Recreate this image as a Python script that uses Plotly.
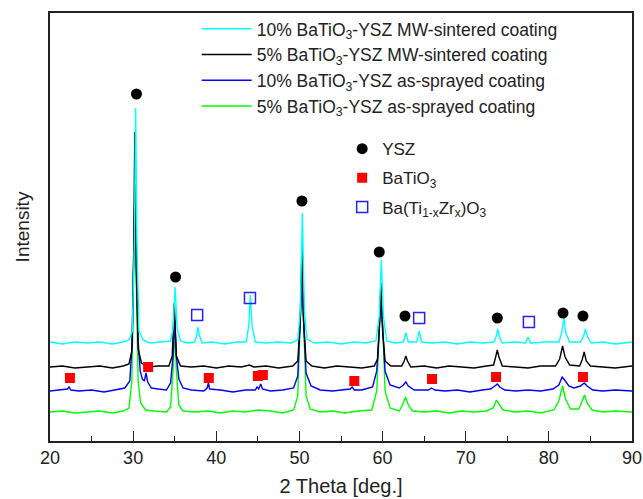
import plotly.graph_objects as go

# ---------------- data (intensity in arbitrary units) ----------------
names = [
    "10% BaTiO<sub>3</sub>-YSZ MW-sintered coating",
    "5% BaTiO<sub>3</sub>-YSZ MW-sintered coating",
    "10% BaTiO<sub>3</sub>-YSZ as-sprayed coating",
    "5% BaTiO<sub>3</sub>-YSZ as-sprayed coating",
]
colors = ["#00FFFF", "#000000", "#0000FF", "#00FF00"]

cyan_x = [20.0, 21.5, 23.0, 24.5, 26.0, 27.5, 28.8, 29.5, 29.9, 30.15, 30.3, 30.45, 30.7, 31.2, 32.0, 33.5,
          34.5, 34.8, 35.05, 35.3, 35.7, 36.5, 37.4, 37.65, 37.8, 37.95, 38.3, 39.5, 41.0, 42.5, 43.6, 43.9,
          44.1, 44.3, 44.7, 46.0, 47.5, 49.0, 49.8, 50.1, 50.35, 50.6, 50.9, 51.8, 53.5, 55.0, 56.5, 58.0,
          59.2, 59.6, 59.85, 60.1, 60.5, 61.5, 62.5, 62.8, 63.1, 64.1, 64.4, 64.7, 66.0, 67.5, 69.0, 70.5,
          72.0, 73.4, 73.65, 73.85, 74.05, 74.4, 76.0, 77.2, 77.5, 77.8, 79.5, 81.2, 81.55, 81.8, 82.05, 82.5,
          83.8, 84.15, 84.4, 84.65, 85.1, 86.5, 88.0, 90.0]
cyan_y = [99, 97, 99, 98, 99, 97, 99, 101, 110, 200, 333, 200, 110, 101, 98, 99,
          100, 112, 154, 112, 100, 98, 99, 106, 114, 106, 98, 99, 97, 99, 99, 115,
          146, 115, 99, 98, 99, 98, 101, 130, 228, 130, 102, 98, 99, 97, 99, 98,
          100, 125, 181, 125, 100, 98, 99, 108, 99, 99, 110, 99, 98, 99, 97, 99,
          98, 99, 104, 112, 104, 98, 99, 98, 104, 98, 99, 99, 108, 123, 108, 99,
          99, 104, 112, 104, 98, 99, 97, 99]

black_x = [20.0, 21.5, 23.0, 24.5, 26.0, 27.5, 28.8, 29.5, 29.85, 30.05, 30.2, 30.35, 30.6, 31.0, 31.8, 33.0,
           34.3, 34.7, 34.95, 35.2, 35.7, 37.0, 38.5, 40.0, 41.5, 43.0, 44.0, 44.5, 46.0, 47.5, 49.2, 49.8,
           50.1, 50.3, 50.5, 50.8, 51.5, 53.0, 54.5, 56.0, 57.5, 59.0, 59.4, 59.6, 59.8, 60.0, 60.3, 61.0,
           62.3, 62.6, 62.8, 63.0, 63.4, 65.0, 66.5, 68.0, 69.5, 71.0, 72.5, 73.35, 73.6, 73.8, 74.0, 74.4,
           76.0, 77.5, 79.0, 80.8, 81.3, 81.65, 81.95, 82.5, 83.7, 84.0, 84.25, 84.5, 85.0, 86.5, 88.0, 90.0]
black_y = [74, 75, 73, 74, 75, 73, 75, 77, 90, 180, 309, 180, 92, 78, 74, 75,
           75, 85, 138, 85, 75, 74, 75, 73, 75, 74, 76, 74, 75, 73, 75, 80,
           120, 195, 120, 80, 75, 73, 75, 74, 73, 75, 82, 110, 158, 110, 80, 75,
           75, 80, 85, 80, 74, 75, 73, 75, 74, 73, 75, 76, 84, 91, 84, 75,
           74, 73, 75, 75, 82, 95, 84, 76, 75, 81, 89, 80, 75, 74, 73, 75]

blue_x = [20.0, 21.5, 22.1, 22.3, 22.5, 23.5, 25.0, 26.5, 28.0, 29.0, 29.6, 29.9, 30.1, 30.25, 30.4, 30.6,
          30.85, 31.1, 31.35, 31.55, 31.75, 32.2, 33.0, 34.0, 34.5, 34.8, 35.0, 35.2, 35.5, 36.0, 37.0, 38.5,
          38.9, 39.05, 39.2, 40.5, 42.0, 43.5, 44.7, 44.9, 45.1, 45.35, 45.55, 46.5, 48.0, 49.3, 49.8, 50.1,
          50.3, 50.5, 50.8, 51.4, 52.5, 54.0, 55.5, 56.1, 56.35, 56.6, 57.5, 58.8, 59.3, 59.6, 59.8, 60.0,
          60.3, 60.9, 62.0, 62.5, 62.8, 63.1, 63.8, 65.5, 65.9, 66.3, 67.5, 69.0, 70.5, 72.0, 73.0, 73.5,
          73.8, 74.1, 74.7, 76.0, 77.5, 79.0, 80.5, 81.2, 81.6, 81.9, 82.4, 83.0, 83.8, 84.25, 84.6, 85.3,
          86.5, 88.0, 90.0]
blue_y = [50, 51, 52, 54, 51, 50, 51, 49, 51, 53, 60, 100, 200, 261, 190, 100,
          70, 62, 60, 68, 59, 53, 52, 51, 58, 85, 121, 85, 62, 53, 51, 50,
          53, 58, 52, 51, 49, 51, 51, 54, 52, 57, 52, 50, 51, 53, 65, 120,
          161, 120, 68, 55, 51, 50, 51, 52, 54, 51, 51, 54, 70, 115, 141, 115,
          70, 56, 53, 56, 59, 55, 51, 51, 53, 51, 50, 51, 49, 51, 52, 55,
          57, 54, 51, 50, 51, 50, 52, 56, 64, 61, 55, 53, 55, 58, 55, 51,
          50, 51, 50]

green_x = [20.0, 21.5, 23.0, 24.5, 26.0, 27.5, 28.8, 29.5, 29.85, 30.05, 30.2, 30.35, 30.6, 30.9, 31.5, 32.5,
           34.0, 34.5, 34.8, 35.0, 35.2, 35.5, 36.0, 37.5, 39.0, 40.5, 42.0, 43.5, 45.0, 46.5, 48.0, 49.3,
           49.8, 50.1, 50.3, 50.5, 50.8, 51.3, 52.5, 54.0, 55.5, 57.0, 58.7, 59.3, 59.6, 59.8, 60.0, 60.3,
           60.9, 62.0, 62.4, 62.75, 63.1, 63.6, 65.0, 66.5, 68.0, 69.5, 71.0, 72.5, 73.3, 73.7, 74.0, 74.5,
           76.0, 77.5, 79.0, 80.6, 81.2, 81.65, 82.0, 82.6, 83.6, 84.0, 84.3, 84.6, 85.2, 86.5, 88.0, 90.0]
green_y = [29, 30, 28, 29, 30, 28, 30, 33, 60, 170, 241, 170, 60, 38, 31, 30,
           29, 34, 70, 111, 70, 36, 30, 29, 30, 28, 30, 29, 31, 30, 28, 31,
           45, 120, 171, 120, 45, 32, 29, 30, 28, 30, 31, 50, 120, 151, 120, 50,
           33, 30, 36, 44, 36, 30, 29, 30, 28, 30, 29, 30, 33, 41, 37, 31,
           29, 30, 28, 31, 40, 55, 42, 32, 32, 39, 46, 38, 31, 29, 30, 29]

# phase markers
ysz_x = [30.4, 35.1, 50.3, 59.6, 62.7, 73.8, 81.7, 84.1]
ysz_y = [347, 164, 240, 189, 125, 123, 128, 125]
bto_x = [22.4, 31.8, 39.1, 45.0, 45.6, 56.6, 65.95, 73.65, 84.1]
bto_y = [63, 74, 63, 65, 66, 60, 62, 64, 64]
btz_x = [37.7, 44.05, 64.4, 77.6]
btz_y = [126, 143, 123, 119]

x_ticks = [20, 30, 40, 50, 60, 70, 80, 90]

# ---------------- figure ----------------
FONT = "Liberation Sans, Arial, sans-serif"
fig = go.Figure()

series = [(cyan_x, cyan_y), (black_x, black_y), (blue_x, blue_y), (green_x, green_y)]
# draw bottom traces first so that the upper ones sit on top
order = [3, 2, 1, 0]
for i in order:
    xs, ys = series[i]
    fig.add_trace(go.Scatter(
        x=xs, y=ys, mode="lines", name=names[i],
        line=dict(color=colors[i], width=1.4),
        legend="legend", legendrank=i,
    ))

fig.add_trace(go.Scatter(x=ysz_x, y=ysz_y, mode="markers", name="YSZ",
                         marker=dict(symbol="circle", size=11, color="#000000"),
                         legend="legend2", legendrank=1, legendgroup="ysz"))
fig.add_trace(go.Scatter(x=bto_x, y=bto_y, mode="markers", name="BaTiO<sub>3</sub>",
                         marker=dict(symbol="square", size=10, color="#FF0000"),
                         legend="legend2", legendrank=2, legendgroup="bto"))
fig.add_trace(go.Scatter(x=btz_x, y=btz_y, mode="markers",
                         name="Ba(Ti<sub>1-x</sub>Zr<sub>x</sub>)O<sub>3</sub>",
                         marker=dict(symbol="square-open", size=11, color="#2222FF",
                                     line=dict(width=1.5, color="#2222FF")),
                         legend="legend2", legendrank=3, legendgroup="btz"))

fig.update_layout(
    width=643, height=499,
    margin=dict(l=50, r=11, t=13, b=58, autoexpand=False),
    paper_bgcolor="white", plot_bgcolor="white",
    font=dict(family=FONT, size=18, color="#222222"),
    xaxis=dict(
        range=[20, 90], tickvals=x_ticks, ticks="inside", ticklen=10, tickwidth=1.2,
        tickcolor="#222222", showgrid=False, zeroline=False, automargin=False,
        showline=True, linecolor="#222222", linewidth=1.5, mirror=True,
        minor=dict(ticks="inside", dtick=5, ticklen=5, tickwidth=1.2, tickcolor="#222222"),
        tickfont=dict(size=18),
        title=dict(text="2 Theta [deg.]", font=dict(size=20), standoff=12),
    ),
    yaxis=dict(
        range=[0, 428], showticklabels=False, ticks="", showgrid=False, zeroline=False,
        automargin=False,
        showline=True, linecolor="#222222", linewidth=1.5, mirror=True,
        title=dict(text="Intensity", font=dict(size=19), standoff=14),
    ),
    legend=dict(
        x=0.252, y=1.005, xanchor="left", yanchor="top",
        bgcolor="rgba(0,0,0,0)", borderwidth=0,
        font=dict(size=17.5, color="#222222"), itemwidth=50,
        tracegroupgap=0,
    ),
    legend2=dict(
        x=0.502, y=0.724, xanchor="left", yanchor="top",
        bgcolor="rgba(0,0,0,0)", borderwidth=0,
        font=dict(size=17, color="#222222"),
        tracegroupgap=4,
    ),
)

fig.write_html("out.html", config={"displayModeBar": False},
               post_script="document.body.style.margin='0';")
